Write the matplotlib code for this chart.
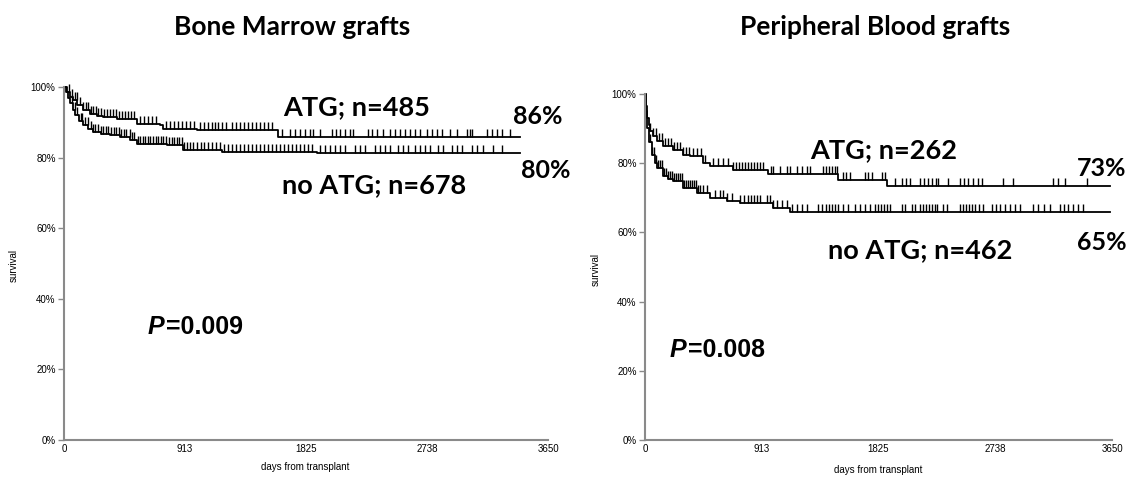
import numpy as np
import matplotlib
matplotlib.use("Agg")
import matplotlib.pyplot as plt

# ---------------- data ----------------
titles = ["Bone Marrow grafts", "Peripheral Blood grafts"]
x_ticks = [0, 913, 1825, 2738, 3650]
y_ticks = [0, 0.2, 0.4, 0.6, 0.8, 1.0]
y_ticklabels = ["0%", "20%", "40%", "60%", "80%", "100%"]

# Bone marrow, ATG
bm_atg_t = [0, 20, 45, 68, 100, 143, 196, 250, 294, 400, 550, 724, 746, 1003, 1614, 3438]
bm_atg_s = [1.0, 0.985, 0.972, 0.962, 0.948, 0.935, 0.924, 0.918, 0.914, 0.909, 0.895, 0.892, 0.881, 0.878, 0.859, 0.859]
bm_atg_c = [35, 58, 80, 97, 121, 143, 166, 181, 204, 219, 241, 256, 279, 302, 324, 347, 370, 392, 415, 437,
            460, 483, 505, 528, 573, 603, 633, 664, 694, 769, 799, 829, 860, 890, 920, 950, 980, 1025,
            1055, 1086, 1116, 1139, 1161, 1191, 1221, 1267, 1297, 1327, 1357, 1387, 1418, 1448, 1478,
            1508, 1538, 1568, 1644, 1704, 1742, 1779, 1817, 1855, 1877, 1930, 2021, 2051, 2081, 2119,
            2156, 2179, 2292, 2322, 2360, 2405, 2458, 2496, 2534, 2571, 2609, 2647, 2684, 2737, 2775,
            2812, 2850, 2910, 2963, 3039, 3061, 3076, 3190, 3227, 3265, 3303, 3363]

# Bone marrow, no ATG
bm_no_t = [0, 15, 30, 45, 65, 83, 110, 143, 180, 219, 280, 347, 420, 498, 550, 777, 897, 1191, 1908, 3438]
bm_no_s = [1.0, 0.985, 0.97, 0.955, 0.935, 0.921, 0.905, 0.892, 0.882, 0.873, 0.868, 0.864, 0.857, 0.850,
           0.839, 0.836, 0.822, 0.817, 0.813, 0.813]
bm_no_c = [60, 82, 101, 125, 139, 162, 178, 200, 221, 236, 259, 280, 296, 318, 335, 357, 374, 395, 418,
           431, 452, 471, 494, 512, 530, 555, 570, 594, 613, 631, 652, 670, 692, 710, 733, 749, 771, 790,
           812, 829, 851, 869, 890, 908, 930, 950, 975, 1000, 1030, 1058, 1088, 1115, 1148, 1178, 1205,
           1236, 1266, 1296, 1329, 1356, 1388, 1418, 1447, 1480, 1508, 1540, 1568, 1601, 1629, 1660,
           1690, 1722, 1750, 1781, 1811, 1843, 1872, 1930, 1968, 2006, 2043, 2081, 2119, 2194, 2232,
           2270, 2345, 2383, 2420, 2458, 2518, 2556, 2594, 2647, 2684, 2722, 2760, 2820, 2858, 2926,
           2963, 3001, 3076, 3114, 3159, 3235, 3303]

# Peripheral blood, ATG
pb_atg_t = [0, 8, 16, 28, 39, 60, 94, 141, 219, 297, 352, 453, 508, 688, 961, 1508, 1891, 3634]
pb_atg_s = [1.0, 0.965, 0.93, 0.91, 0.893, 0.878, 0.864, 0.850, 0.838, 0.824, 0.821, 0.800, 0.792, 0.780,
            0.769, 0.751, 0.734, 0.734]
pb_atg_c = [39, 63, 86, 109, 133, 156, 180, 203, 227, 250, 274, 297, 320, 344, 375, 406, 438, 469, 531,
            571, 610, 649, 688, 711, 735, 758, 782, 805, 828, 852, 875, 899, 922, 985, 1000, 1055, 1110,
            1133, 1188, 1227, 1266, 1290, 1391, 1415, 1438, 1462, 1485, 1501, 1548, 1571, 1602, 1720,
            1743, 1774, 1852, 1876, 1954, 2009, 2040, 2071, 2149, 2181, 2212, 2243, 2274, 2290, 2368,
            2462, 2493, 2525, 2564, 2603, 2634, 2798, 2876, 3189, 3228, 3283, 3455]

# Peripheral blood, no ATG
pb_no_t = [0, 8, 16, 30, 55, 75, 94, 141, 180, 219, 297, 406, 508, 641, 743, 1000, 1133, 3634]
pb_no_s = [1.0, 0.95, 0.902, 0.86, 0.824, 0.80, 0.786, 0.763, 0.755, 0.749, 0.728, 0.714, 0.699, 0.691,
           0.685, 0.671, 0.658, 0.658]
pb_no_c = [39, 55, 70, 86, 102, 117, 133, 149, 164, 180, 195, 211, 227, 242, 258, 274, 289, 305, 320,
           336, 352, 367, 383, 399, 414, 430, 453, 485, 547, 586, 610, 641, 680, 743, 774, 805, 828, 852,
           875, 899, 954, 977, 1000, 1032, 1071, 1110, 1149, 1188, 1227, 1266, 1352, 1383, 1415, 1438,
           1462, 1485, 1508, 1548, 1587, 1641, 1680, 1720, 1759, 1798, 1821, 1845, 1868, 1891, 1915,
           2009, 2032, 2087, 2110, 2149, 2173, 2196, 2220, 2243, 2267, 2282, 2329, 2360, 2462, 2485,
           2509, 2532, 2556, 2579, 2610, 2642, 2712, 2743, 2775, 2814, 2853, 2892, 2931, 3033, 3072,
           3119, 3165, 3244, 3275, 3306, 3345, 3384, 3423]

# annotations
labels_atg = ["ATG; n=485", "ATG; n=262"]
labels_no = ["no ATG; n=678", "no ATG; n=462"]
pct_atg = ["86%", "73%"]
pct_no = ["80%", "65%"]
pvals = ["=0.009", "=0.008"]

# ---------------- figure ----------------
W, H = 1128, 478
fig = plt.figure(figsize=(W / 100, H / 100), dpi=100)

def fx(px):
    return px / W

def fy(py):
    return 1 - py / H

axes_px = [(64, 548, 87, 440), (645, 1112, 94, 440)]
curves = [((bm_atg_t, bm_atg_s, bm_atg_c), (bm_no_t, bm_no_s, bm_no_c)),
          ((pb_atg_t, pb_atg_s, pb_atg_c), (pb_no_t, pb_no_s, pb_no_c))]

title_font = dict(family=["Lato", "DejaVu Sans"], weight="bold", size=19)
ann_font = dict(family=["Lato", "DejaVu Sans"], weight="bold", size=19.5)
pct_font = dict(family=["Lato", "DejaVu Sans"], weight="bold", size=18)
tick_font = dict(family=["Liberation Sans", "DejaVu Sans"], size=7)
pfont = dict(family=["Liberation Sans", "DejaVu Sans"], weight="bold", size=18)
grey = "#8a8a8a"

title_pos = [(292, 27), (875, 27)]
atg_pos = [(283, 107), (810, 150)]
no_pos = [(282, 185), (828, 250)]
pa_pos = [(538, 116), (1102, 169)]
pn_pos = [(546, 170), (1102, 242)]
p_pos = [(148, 327), (670, 350)]
ylab_pos = [(14, 265), (596, 270)]
xlab_pos = [(305, 467), (878, 470)]

for i in range(2):
    x0, x1, y0, y1 = axes_px[i]
    ax = fig.add_axes([fx(x0), fy(y1), fx(x1 - x0), (y1 - y0) / H])
    ax.set_xlim(0, 3650)
    ax.set_ylim(0, 1.0)
    for sp in ["top", "right"]:
        ax.spines[sp].set_visible(False)
    for sp in ["left", "bottom"]:
        ax.spines[sp].set_color(grey)
        ax.spines[sp].set_linewidth(1.5)
    ax.set_xticks(x_ticks)
    ax.set_xticklabels([str(v) for v in x_ticks], **tick_font)
    ax.set_yticks(y_ticks)
    ax.set_yticklabels(y_ticklabels, **tick_font)
    ax.tick_params(axis="y", length=4, width=1, color=grey, pad=2)
    ax.tick_params(axis="x", length=0, pad=3)

    for (t, s, c) in curves[i]:
        t = np.asarray(t, float)
        s = np.asarray(s, float)
        c = np.asarray(c, float)
        ax.step(t, s, where="post", color="black", lw=1.3, clip_on=False)
        idx = np.searchsorted(t, c, side="right") - 1
        ax.plot(c, s[idx], linestyle="none", marker=2, markersize=5.5,
                markeredgewidth=1.0, color="black", clip_on=False)

    fig.text(fx(title_pos[i][0]), fy(title_pos[i][1]), titles[i], ha="center", va="center", **title_font)
    fig.text(fx(atg_pos[i][0]), fy(atg_pos[i][1]), labels_atg[i], ha="left", va="center", **ann_font)
    fig.text(fx(no_pos[i][0]), fy(no_pos[i][1]), labels_no[i], ha="left", va="center", **ann_font)
    fig.text(fx(pa_pos[i][0]), fy(pa_pos[i][1]), pct_atg[i], ha="center", va="center", **pct_font)
    fig.text(fx(pn_pos[i][0]), fy(pn_pos[i][1]), pct_no[i], ha="center", va="center", **pct_font)
    fig.text(fx(p_pos[i][0]), fy(p_pos[i][1]), "P", ha="left", va="center", style="italic", **pfont)
    fig.text(fx(p_pos[i][0] + 18), fy(p_pos[i][1]), pvals[i], ha="left", va="center", **pfont)
    fig.text(fx(ylab_pos[i][0]), fy(ylab_pos[i][1]), "survival", rotation=90, ha="center", va="center", **tick_font)
    fig.text(fx(xlab_pos[i][0]), fy(xlab_pos[i][1]), "days from transplant", ha="center", va="center", **tick_font)

fig.savefig("out.png", dpi=100)
